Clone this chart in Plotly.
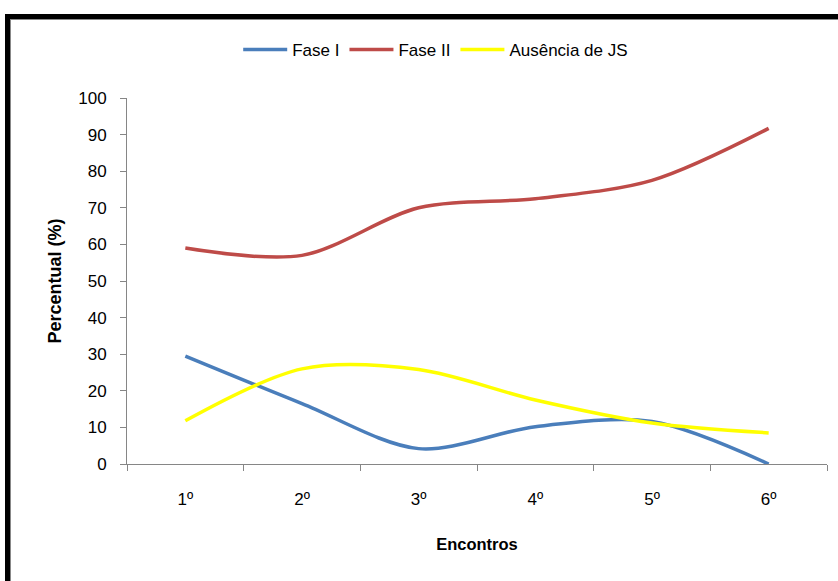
import plotly.graph_objects as go

encontros = ["1º", "2º", "3º", "4º", "5º", "6º"]
fase_1 = [29.5, 16.5, 4.2, 10.2, 11.6, 0]
fase_2 = [59, 57, 70, 72.5, 77.5, 91.7]
ausencia_js = [11.8, 26, 25.8, 17.5, 11.2, 8.5]

FONT = "Liberation Sans, Arial, sans-serif"

fig = go.Figure()
fig.add_trace(go.Scatter(x=encontros, y=fase_1, name="Fase I", mode="lines",
                         line=dict(color="#4A7EBB", width=3.5, shape="spline", smoothing=0.9)))
fig.add_trace(go.Scatter(x=encontros, y=fase_2, name="Fase II", mode="lines",
                         line=dict(color="#BE4B48", width=3.5, shape="spline", smoothing=0.9)))
fig.add_trace(go.Scatter(x=encontros, y=ausencia_js, name="Ausência de JS", mode="lines",
                         line=dict(color="#FFFF00", width=3.5, shape="spline", smoothing=0.9)))

fig.update_layout(
    width=838, height=581,
    margin=dict(l=127, r=11, t=98, b=117),
    paper_bgcolor="white", plot_bgcolor="white",
    font=dict(family=FONT, size=16, color="#000000"),
    showlegend=True,
    legend=dict(orientation="h", x=0.441, xanchor="center", y=1.131, yanchor="middle",
                font=dict(size=17), itemwidth=44, tracegroupgap=0),
    xaxis=dict(type="category", showgrid=False, showline=True, linecolor="#868686", linewidth=1,
               ticks="outside", tickson="boundaries", ticklen=6, tickcolor="#868686",
               ticklabelstandoff=20, tickfont=dict(size=17),
               title=dict(text="<b>Encontros</b>", font=dict(size=16.5), standoff=30),
               range=[-0.5, 5.5], zeroline=False),
    yaxis=dict(range=[0, 100], dtick=10, showgrid=False, showline=True, linecolor="#868686",
               linewidth=1, ticks="outside", ticklen=6, tickcolor="#868686",
               ticklabelstandoff=10, tickfont=dict(size=17),
               title=dict(text="<b>Percentual (%)</b>", font=dict(size=18), standoff=11),
               zeroline=False),
    shapes=[
        dict(type="rect", xref="paper", yref="paper",
             x0=(5 - 127) / 700, x1=(10 - 127) / 700,
             y0=(464 - 600) / 366, y1=(464 - 14) / 366,
             fillcolor="#000000", line=dict(width=0), layer="above"),
        dict(type="rect", xref="paper", yref="paper",
             x0=(5 - 127) / 700, x1=(850 - 127) / 700,
             y0=(464 - 19) / 366, y1=(464 - 14) / 366,
             fillcolor="#000000", line=dict(width=0), layer="above"),
        dict(type="rect", xref="paper", yref="paper",
             x0=(10 - 127) / 700, x1=(11 - 127) / 700,
             y0=(464 - 600) / 366, y1=(464 - 19) / 366,
             fillcolor="#888888", line=dict(width=0), layer="above"),
        dict(type="rect", xref="paper", yref="paper",
             x0=(10 - 127) / 700, x1=(850 - 127) / 700,
             y0=(464 - 20) / 366, y1=(464 - 19) / 366,
             fillcolor="#888888", line=dict(width=0), layer="above"),
    ],
)

fig.write_html("out.html", config={"displayModeBar": False},
               post_script="document.body.style.margin='0';")
